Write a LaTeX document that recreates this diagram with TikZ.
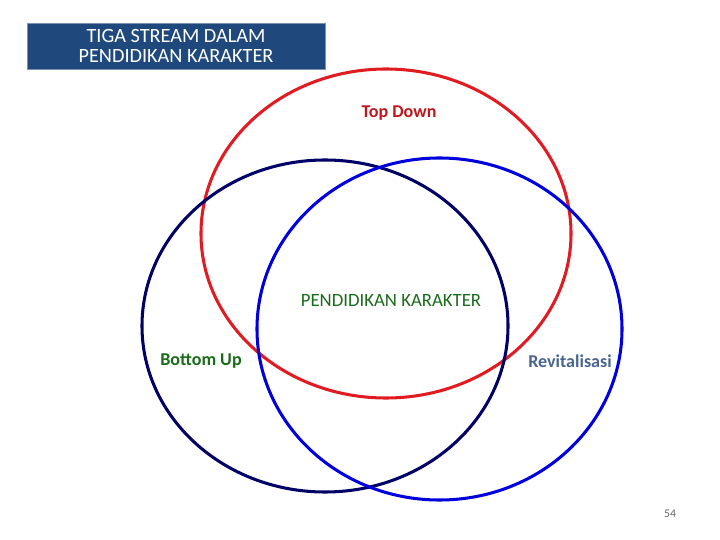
\documentclass[tikz,border=0pt]{standalone}
\usepackage{fontspec}
\setmainfont{Carlito}
\usepackage{xcolor}
\usetikzlibrary{positioning}
\definecolor{colTitle}{HTML}{1F497D}
\definecolor{colRed}{HTML}{E01B22}
\definecolor{colNavy}{HTML}{000066}
\definecolor{colBlue}{HTML}{0000DD}
\definecolor{colGreen}{HTML}{1A6B1A}
\definecolor{colSteel}{HTML}{4A6490}
\definecolor{colGray}{HTML}{666666}
\tikzset{
  % Stream circles
  stream/.style={line width=2.6pt},
  % Title banner
  banner/.style={
    fill=colTitle, draw=colTitle!60, text=white,
    align=center, inner sep=0pt,
    minimum width=8.94cm, minimum height=1.38cm,
    font=\fontsize{17.3}{17.6}\selectfont,
  },
  % Labels
  lbl/.style={font=\fontsize{16}{18}\selectfont, inner sep=1pt},
  lblB/.style={lbl, font=\fontsize{15.4}{18}\selectfont\bfseries},
}

\begin{document}
\begin{tikzpicture}[x=0.03cm, y=-0.03cm]
\useasboundingbox (0,0) rectangle (720,540);

%% ====================================================================
%% Title banner
%% ====================================================================
\node[banner] (title) at (176,46) {TIGA STREAM DALAM\\PENDIDIKAN KARAKTER};

%% ====================================================================
%% Three streams
%% ====================================================================
\coordinate (cTop) at (386,233.5);
\coordinate (cBot) at (325,326);
\coordinate (cRev) at (439.5,329);

\draw[stream, colRed]  (cTop) ellipse [x radius=5.55cm, y radius=4.935cm];
\draw[stream, colNavy] (cBot) ellipse [x radius=5.49cm, y radius=4.98cm];
\draw[stream, colBlue] (cRev) ellipse [x radius=5.475cm, y radius=5.13cm];

%% ====================================================================
%% Labels
%% ====================================================================
\node[lblB, text=colRed!85!black] (topdown) at (399,113) {Top Down};
\node[lbl, text=colGreen] (pk) at (391,300) {PENDIDIKAN KARAKTER};
\node[lblB, text=colGreen] (bottomup) at (201,361) {Bottom Up};
\node[lblB, text=colSteel] (revit) at (570,361) {Revitalisasi};

% page number
\node[text=colGray, font=\fontsize{10}{11}\selectfont] (page) at (670,514) {54};

\end{tikzpicture}
\end{document}
